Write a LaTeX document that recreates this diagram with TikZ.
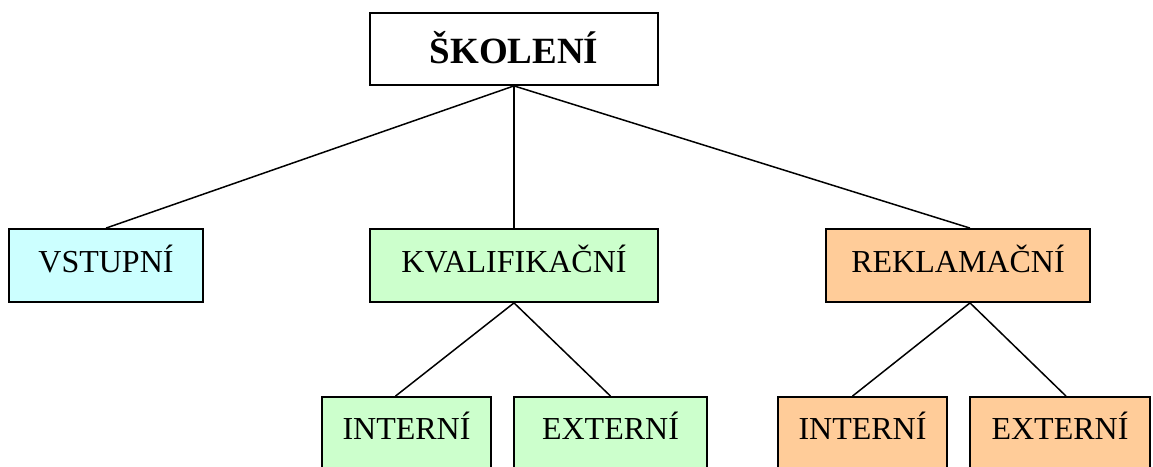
\documentclass[tikz,border=0pt]{standalone}
\usepackage{fontspec}
\setmainfont{Liberation Serif}
\definecolor{cyanfill}{HTML}{CCFFFF}
\definecolor{greenfill}{HTML}{CCFFCC}
\definecolor{orangefill}{HTML}{FFCC99}
\tikzset{
  box/.style={draw=black, line width=1.8pt, rectangle, inner sep=0pt, minimum height=73pt,
    text height=25pt, text depth=12pt,
    font=\fontsize{32}{38}\selectfont, text=black},
  lowbox/.style={box, text height=24pt, text depth=13pt},
  topbox/.style={box, fill=white, minimum height=72pt, text height=34pt, text depth=6pt,
    font=\fontsize{37}{44}\selectfont\bfseries},
  link/.style={draw=black, line width=1.5pt}
}
\begin{document}
\begin{tikzpicture}[x=1pt,y=-1pt]
\clip (0,0) rectangle (1153,466);
\fill[white] (0,0) rectangle (1153,466);
% nodes
\node[topbox, minimum width=288pt] (sk) at (514,49) {ŠKOLENÍ};
\node[box, fill=cyanfill, minimum width=194pt] (vs) at (106,265.5) {VSTUPNÍ};
\node[box, fill=greenfill, minimum width=288pt] (kv) at (514,265.5) {KVALIFIKAČNÍ};
\node[box, fill=orangefill, minimum width=264pt] (re) at (958,265.5) {REKLAMAČNÍ};
\node[lowbox, fill=greenfill, minimum width=169pt] (ki) at (406.5,433.5) {INTERNÍ};
\node[lowbox, fill=greenfill, minimum width=193pt] (ke) at (610.5,433.5) {EXTERNÍ};
\node[lowbox, fill=orangefill, minimum width=169pt] (ri) at (862.5,433.5) {INTERNÍ};
\node[lowbox, fill=orangefill, minimum width=180pt] (rx) at (1060,433.5) {EXTERNÍ};
% connectors
\draw[link] (sk.south) -- (vs.north);
\draw[link] (sk.south) -- (kv.north);
\draw[link] (sk.south) -- ([xshift=12pt]re.north);
\draw[link] (kv.south) -- ([xshift=-11pt]ki.north);
\draw[link] (kv.south) -- (ke.north);
\draw[link] ([xshift=12pt]re.south) -- ([xshift=-10pt]ri.north);
\draw[link] ([xshift=12pt]re.south) -- ([xshift=6pt]rx.north);
\end{tikzpicture}
\end{document}
